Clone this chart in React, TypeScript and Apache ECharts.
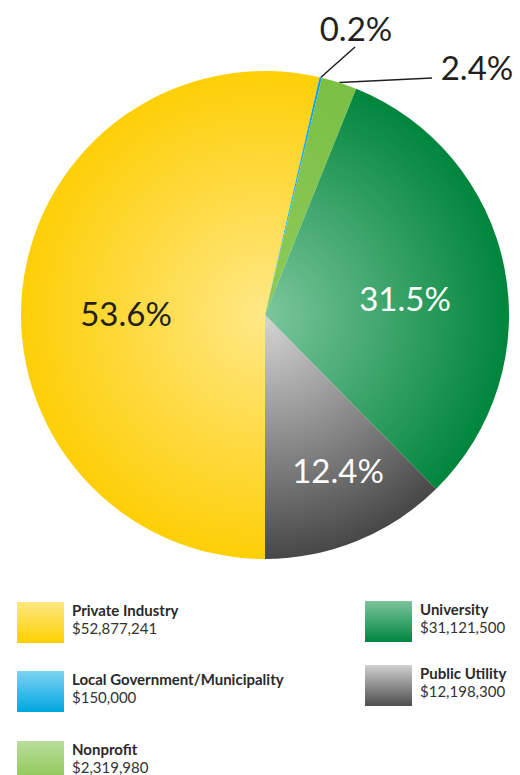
import React, { useEffect, useRef } from 'react';
import * as echarts from 'echarts';

const categories = [
  'Private Industry',
  'Local Government/Municipality',
  'Nonprofit',
  'University',
  'Public Utility',
];
const amounts = [52877241, 150000, 2319980, 31121500, 12198300];

// radial gradient per slice: [center, edge]
const sliceColors = [
  ['#FFE887', '#FDCF06'],
  ['#3DB8EC', '#0AA0DD'],
  ['#8DCB5A', '#7BBF45'],
  ['#7CC69C', '#00853C'],
  ['#D6D6D6', '#474747'],
];
// legend swatch gradient: [top, bottom]
const legendColors = [
  ['#FEE783', '#FDD100'],
  ['#7DD2F2', '#00A7E1'],
  ['#B9DE9C', '#8BC653'],
  ['#7CC49C', '#008640'],
  ['#D0D0D0', '#4E4E4E'],
];
const pctColors = ['#231F20', '#231F20', '#231F20', '#FFFFFF', '#FFFFFF'];
const outsideLabel = [false, true, true, false, false];

export default function App() {
  const ref = useRef<HTMLDivElement>(null);
  useEffect(() => {
    document.body.style.margin = '0';
    const chart = echarts.init(ref.current!, null, { renderer: 'svg' });
    const total = amounts.reduce((a, b) => a + b, 0);
    const cx = 265, cy = 315, R = 244;
    const labelPos = [
      { x: 126, y: 313 },
      { x: 356, y: 28 },
      { x: 477, y: 67 },
      { x: 405, y: 298 },
      { x: 338, y: 470 },
    ];
    const legendPos = [
      { x: 17, y: 602 },
      { x: 17, y: 671 },
      { x: 17, y: 741 },
      { x: 365, y: 601 },
      { x: 365, y: 665 },
    ];
    const font = 'Lato, "Open Sans", sans-serif';

    const data = categories.map((name, i) => ({
      name,
      value: amounts[i],
      itemStyle: {
        color: new echarts.graphic.RadialGradient(cx, cy, R, [
          { offset: 0, color: sliceColors[i][0] },
          { offset: 1, color: sliceColors[i][1] },
        ], true),
      },
      label: {
        position: outsideLabel[i] ? 'outside' : 'inside',
        color: pctColors[i],
      },
      labelLine: {
        show: outsideLabel[i],
        length: 10,
        length2: 10,
        lineStyle: { color: '#231F20', width: 1.5 },
      },
    }));

    const graphics: any[] = [];
    categories.forEach((name, i) => {
      const p = legendPos[i];
      graphics.push({
        type: 'rect',
        shape: { x: p.x, y: p.y, width: 47, height: 41 },
        style: {
          fill: new echarts.graphic.LinearGradient(0, 0, 0, 1, [
            { offset: 0, color: legendColors[i][0] },
            { offset: 1, color: legendColors[i][1] },
          ]),
        },
      });
      graphics.push({
        type: 'text',
        x: p.x + 55,
        y: p.y + 8,
        style: {
          text: name,
          fontFamily: font,
          fontSize: 15,
          fontWeight: 'bold',
          fill: '#2a2a2a',
          verticalAlign: 'middle',
        },
      });
      graphics.push({
        type: 'text',
        x: p.x + 55,
        y: p.y + 26,
        style: {
          text: '$' + amounts[i].toLocaleString('en-US'),
          fontFamily: font,
          fontSize: 15,
          fill: '#333333',
          verticalAlign: 'middle',
        },
      });
    });

    chart.setOption({
      animation: false,
      graphic: graphics,
      series: [
        {
          type: 'pie',
          center: [cx, cy],
          radius: R,
          startAngle: -90,
          clockwise: true,
          avoidLabelOverlap: false,
          emphasis: { disabled: true },
          label: {
            show: true,
            fontFamily: font,
            fontSize: 33,
            fontWeight: 'normal',
            formatter: (p: any) => ((p.value / total) * 100).toFixed(1) + '%',
          },
          labelLayout: (params: any) => {
            const i = params.dataIndex;
            const pos = labelPos[i];
            const out: any = { x: pos.x, y: pos.y, align: 'center', verticalAlign: 'middle' };
            if (outsideLabel[i] && params.labelLinePoints) {
              const a = params.labelLinePoints[0];
              const end = i === 1 ? [pos.x - 1, pos.y + 19] : [pos.x - 45, pos.y + 11];
              out.labelLinePoints = [a, end];
            }
            return out;
          },
          data,
        },
      ],
    });
    return () => chart.dispose();
  }, []);
  return <div ref={ref} style={{ width: 520, height: 775 }} />;
}
